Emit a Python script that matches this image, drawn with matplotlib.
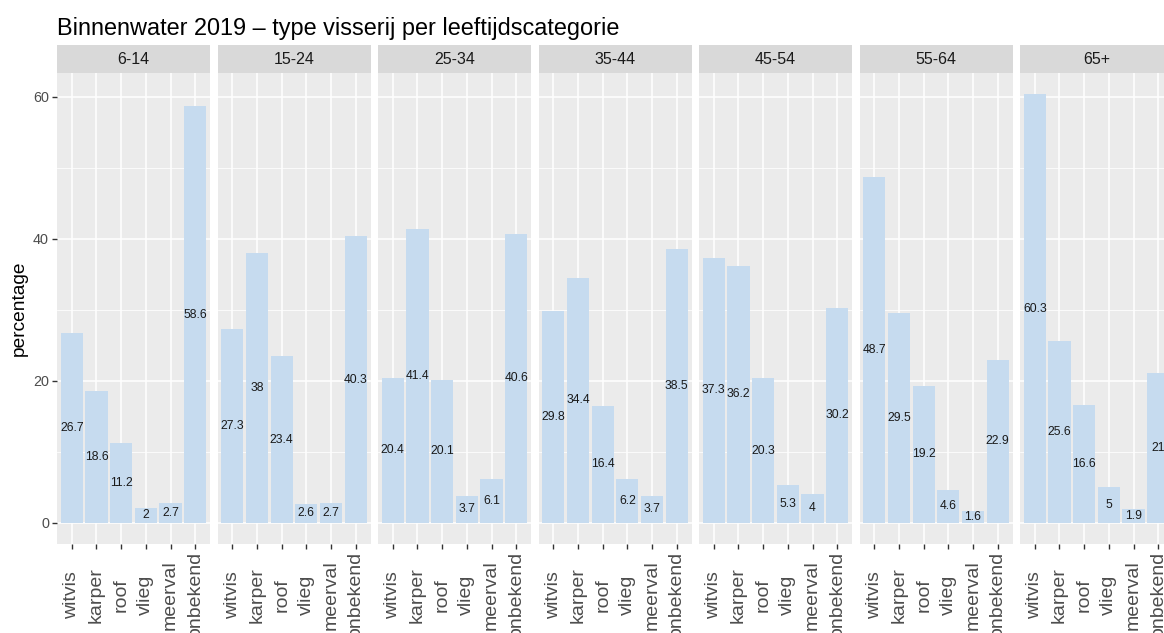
import matplotlib
matplotlib.use("Agg")
import matplotlib.pyplot as plt
from matplotlib.ticker import MultipleLocator

plt.rcParams['font.family'] = ['Liberation Sans', 'DejaVu Sans']

title = "Binnenwater 2019 \u2013 type visserij per leeftijdscategorie"
ylabel = "percentage"
categories = ["witvis", "karper", "roof", "vlieg", "meerval", "onbekend"]
age_groups = ["6-14", "15-24", "25-34", "35-44", "45-54", "55-64", "65+"]
values = {
    "6-14":  [26.7, 18.6, 11.2, 2.0, 2.7, 58.6],
    "15-24": [27.3, 38.0, 23.4, 2.6, 2.7, 40.3],
    "25-34": [20.4, 41.4, 20.1, 3.7, 6.1, 40.6],
    "35-44": [29.8, 34.4, 16.4, 6.2, 3.7, 38.5],
    "45-54": [37.3, 36.2, 20.3, 5.3, 4.0, 30.2],
    "55-64": [48.7, 29.5, 19.2, 4.6, 1.6, 22.9],
    "65+":   [60.3, 25.6, 16.6, 5.0, 1.9, 21.0],
}
yticks = [0, 20, 40, 60]

W, H = 1164, 633
fig = plt.figure(figsize=(W / 100, H / 100), dpi=100)

def fx(px):
    return px / W

def fy(py):
    return 1 - py / H

panel_left0 = 57
panel_pitch = 160.5
panel_w = 153
panel_top = 73
panel_bot = 544
strip_top = 45

bar_color = "#C6DBEF"
bg = "#EBEBEB"
strip_bg = "#D9D9D9"

ymax = max(max(v) for v in values.values())
ylo, yhi = -0.05 * ymax, ymax * 1.05
x = list(range(1, len(categories) + 1))

for i, g in enumerate(age_groups):
    left = panel_left0 + i * panel_pitch
    ax = fig.add_axes([fx(left), fy(panel_bot), fx(panel_w), (panel_bot - panel_top) / H])
    ax.set_facecolor(bg)
    for s in ax.spines.values():
        s.set_visible(False)
    ax.set_xlim(0.4, len(categories) + 0.6)
    ax.set_ylim(ylo, yhi)
    ax.set_yticks(yticks)
    ax.yaxis.set_minor_locator(MultipleLocator(10))
    ax.set_xticks(x)
    ax.grid(which='major', color='white', linewidth=1.1)
    ax.grid(which='minor', axis='y', color='white', linewidth=0.55)
    ax.set_axisbelow(True)
    vals = values[g]
    ax.bar(x, vals, width=0.9, color=bar_color, zorder=2)
    for xi, v in zip(x, vals):
        lab = f"{v:g}"
        ax.text(xi, v / 2, lab, ha='center', va='center', fontsize=8.7,
                color='#1A1A1A', zorder=3)
    ax.tick_params(axis='both', which='major', length=3.8, width=1.0, color='#333333')
    ax.tick_params(axis='y', which='minor', length=0)
    ax.set_xticklabels(categories, rotation=90, va='center', ha='center',
                       fontsize=14, color='#4D4D4D')
    ax.tick_params(axis='x', pad=33)
    if i == 0:
        ax.set_yticklabels([str(t) for t in yticks], fontsize=10.4, color='#4D4D4D')
        ax.tick_params(axis='y', pad=2)
    else:
        ax.tick_params(axis='y', length=0, labelleft=False)
    # strip
    sax = fig.add_axes([fx(left), fy(panel_top), fx(panel_w), (panel_top - strip_top) / H])
    sax.set_facecolor(strip_bg)
    for s in sax.spines.values():
        s.set_visible(False)
    sax.set_xticks([])
    sax.set_yticks([])
    sax.text(0.5, 0.5, g, ha='center', va='center', fontsize=11.5,
             color='#1A1A1A', transform=sax.transAxes)

fig.text(fx(57), fy(35), title, ha='left', va='baseline', fontsize=16.9, color='black')
fig.text(fx(19), fy((panel_top + panel_bot) / 2), ylabel, rotation=90,
         ha='center', va='center', fontsize=13.8, color='black')

fig.savefig("out.png", dpi=100, facecolor='white')
